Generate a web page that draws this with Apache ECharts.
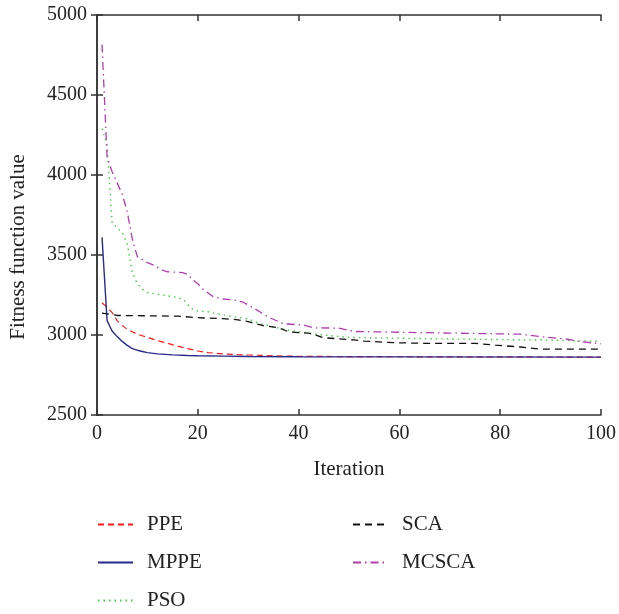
<!DOCTYPE html>
<html lang="en">
<head>
<meta charset="UTF-8">
<title>Fitness convergence</title>
<style>
  *{ padding:0; margin:0; }
  body{ background:#fff; }
</style>
</head>
<body>
<div id="main" style="width:619px;height:614px;"></div>
<script src="https://cdn.jsdelivr.net/npm/echarts@6/dist/echarts.min.js"></script>
<script>
// values: iteration / fitness value at breakpoints
var ppeIter = [1,2,3,4,5,6,7,8,9,10,12,14,16,18,20,22,25,28,30,35,40,50,60,80,100];
var ppeVal  = [3200,3175,3140,3090,3060,3035,3020,3005,2995,2985,2965,2948,2930,2915,2900,2890,2882,2877,2875,2870,2867,2865,2864,2863,2862];

var mppeIter = [1,2,3,4,5,6,7,8,9,10,12,15,18,20,25,30,40,60,100];
var mppeVal  = [3610,3090,3025,2990,2960,2935,2915,2905,2897,2890,2882,2876,2872,2870,2868,2866,2864,2863,2862];

var psoIter = [1,2,3,5,6,7,8,9,10,12,15,17,18,19,20,22,25,28,30,32,35,38,41,45,50,70,90,100];
var psoVal  = [4290,4190,3700,3640,3570,3390,3320,3285,3265,3255,3240,3225,3190,3160,3150,3145,3125,3110,3100,3075,3050,3030,3015,3000,2985,2975,2968,2960];

var scaIter = [1,4,10,16,20,25,28,30,33,36,38,40,42,45,51,53,59,65,75,79,84,88,100];
var scaVal  = [3137,3122,3120,3118,3108,3102,3095,3083,3058,3046,3020,3015,3012,2983,2969,2962,2952,2948,2948,2937,2925,2912,2912];

var mcscaIter = [1,2,3,4,5,6,7,8,10,11,13,14,17,18,19,20,21,23,25,27,29,31,34,37,41,43,48,51,68,84,88,93,96,100];
var mcscaVal  = [4815,4110,4020,3950,3880,3770,3600,3490,3452,3440,3405,3395,3390,3378,3345,3320,3287,3240,3225,3220,3205,3170,3112,3070,3062,3045,3043,3022,3013,3005,2990,2975,2958,2945];

var xTicks = [0, 20, 40, 60, 80, 100];
var yTicks = [2500, 3000, 3500, 4000, 4500, 5000];

var pairs = (xs, ys) => xs.map((x, i) => [x, ys[i]]);

var font = 'Liberation Serif';
var axisCol = '#333';
var txtCol = '#222';

var myChart = echarts.init(document.getElementById('main'));

var mkLine = (name, xs, ys, color, dash, width) => ({
    name: name,
    type: 'line',
    data: pairs(xs, ys),
    symbol: 'none',
    smooth: false,
    lineStyle: { color: color, width: width || 1.2, type: dash },
    itemStyle: { color: color },
    z: 3
});

var baseAxis = {
    axisLine: { lineStyle: { color: axisCol, width: 1.5 } },
    axisTick: { inside: true, length: 6, lineStyle: { color: axisCol, width: 1.5 } },
    splitLine: { show: false }
};

var legendBase = {
    orient: 'vertical', top: 514, height: 130, padding: 0,
    itemWidth: 35, itemHeight: 14, itemGap: 17,
    itemStyle: { opacity: 0 },
    textStyle: { fontFamily: font, fontSize: 21, color: txtCol, padding: [0, 0, 0, 9] }
};

var option = {
    backgroundColor: '#fff',
    animation: false,
    textStyle: { fontFamily: font },
    grid: { left: 97, right: 14, top: 15, bottom: 199, containLabel: false },
    xAxis: [
        Object.assign({}, baseAxis, {
            type: 'value', min: xTicks[0], max: xTicks[xTicks.length - 1], interval: 20,
            name: 'Iteration', nameLocation: 'middle', nameGap: 44,
            nameTextStyle: { fontFamily: font, fontSize: 21, color: txtCol },
            axisLabel: { fontFamily: font, fontSize: 20, color: txtCol, margin: 9, formatter: v => String(v) }
        }),
        Object.assign({}, baseAxis, {
            type: 'value', position: 'top', min: 0, max: 100, interval: 20,
            axisLabel: { show: false }
        })
    ],
    yAxis: [
        Object.assign({}, baseAxis, {
            type: 'value', min: yTicks[0], max: yTicks[yTicks.length - 1], interval: 500,
            name: 'Fitness function value', nameLocation: 'middle', nameGap: 68,
            nameTextStyle: { fontFamily: font, fontSize: 21, color: txtCol, padding: [0, 64, 0, 0] },
            axisLabel: { fontFamily: font, fontSize: 20, color: txtCol, margin: 10, formatter: v => String(v) }
        }),
        Object.assign({}, baseAxis, {
            type: 'value', position: 'right', min: 2500, max: 5000, interval: 500,
            axisLabel: { show: false }
        })
    ],
    legend: [
        Object.assign({}, legendBase, { data: ['PPE', 'MPPE', 'PSO'], left: 97 }),
        Object.assign({}, legendBase, { data: ['SCA', 'MCSCA'], left: 352 })
    ],
    series: [
        mkLine('PPE', ppeIter, ppeVal, '#ff1a1a', [6, 4], 1.2),
        mkLine('MPPE', mppeIter, mppeVal, '#2a2a8a', 'solid', 1.4),
        mkLine('PSO', psoIter, psoVal, '#44cc44', [1.5, 4], 1.4),
        mkLine('SCA', scaIter, scaVal, '#111', [7, 5], 1.3),
        mkLine('MCSCA', mcscaIter, mcscaVal, '#b03cb0', [8, 4, 1.5, 4], 1.3)
    ]
};

myChart.setOption(option);
</script>
</body>
</html>
